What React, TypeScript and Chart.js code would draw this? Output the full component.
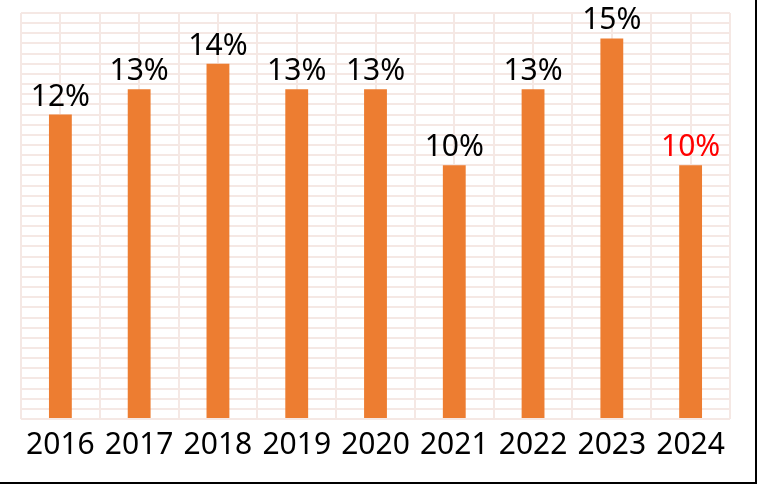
import React, { useEffect, useRef } from "react";
import { Chart, registerables } from "chart.js";

Chart.register(...registerables);

const categories = ["2016", "2017", "2018", "2019", "2020", "2021", "2022", "2023", "2024"];
const values = [12, 13, 14, 13, 13, 10, 13, 15, 10];
const labelColors = ["#000", "#000", "#000", "#000", "#000", "#000", "#000", "#000", "#ff0000"];

const FONT = "'Noto Sans', sans-serif";
const GRID = "#f5e8e4";

const valueLabels = {
  id: "valueLabels",
  afterDatasetsDraw(chart: any) {
    const ctx = chart.ctx;
    const meta = chart.getDatasetMeta(0);
    ctx.save();
    ctx.font = `30px ${FONT}`;
    ctx.textAlign = "center";
    ctx.textBaseline = "alphabetic";
    meta.data.forEach((bar: any, i: number) => {
      ctx.fillStyle = labelColors[i];
      ctx.fillText(`${values[i]}%`, bar.x, bar.y - 9);
    });
    ctx.restore();
  },
};

export default function App() {
  const ref = useRef<HTMLCanvasElement>(null);
  useEffect(() => {
    const chart = new Chart(ref.current!, {
      type: "bar",
      data: {
        labels: categories,
        datasets: [
          {
            data: values,
            backgroundColor: "#ed7d31",
            barPercentage: 0.29,
            categoryPercentage: 1,
          },
        ],
      },
      options: {
        animation: false,
        responsive: false,
        layout: { padding: { left: 21, top: 13, right: 25, bottom: 0 } },
        plugins: { legend: { display: false }, tooltip: { enabled: false } },
        scales: {
          x2: {
            type: "category",
            position: "bottom",
            labels: categories,
            offset: true,
            grid: { offset: false, color: GRID, lineWidth: 2, drawTicks: false },
            border: { display: false },
            ticks: { display: false },
            afterFit: (s: any) => { s.height = 0; },
          },
          x: {
            position: "bottom",
            offset: true,
            grid: { offset: true, color: GRID, lineWidth: 2, drawTicks: false },
            border: { display: false },
            ticks: { color: "#000", font: { size: 30, family: FONT }, padding: 8, maxRotation: 0 },
            afterFit: (s: any) => { s.height = 63; },
          },
          y: {
            min: 0,
            max: 16,
            grid: { color: GRID, lineWidth: 2, drawTicks: false },
            border: { display: false },
            ticks: { display: false, stepSize: 0.4 },
            afterFit: (s: any) => { s.width = 0; },
          },
        },
      },
      plugins: [valueLabels],
    });
    return () => chart.destroy();
  }, []);
  return (
    <div
      style={{
        position: "fixed",
        left: 0,
        top: 0,
        width: 757,
        height: 484,
        boxSizing: "border-box",
        borderRight: "2px solid #000",
        borderBottom: "2px solid #000",
        background: "#fff",
      }}
    >
      <canvas ref={ref} width={755} height={482} style={{ display: "block" }} />
    </div>
  );
}
